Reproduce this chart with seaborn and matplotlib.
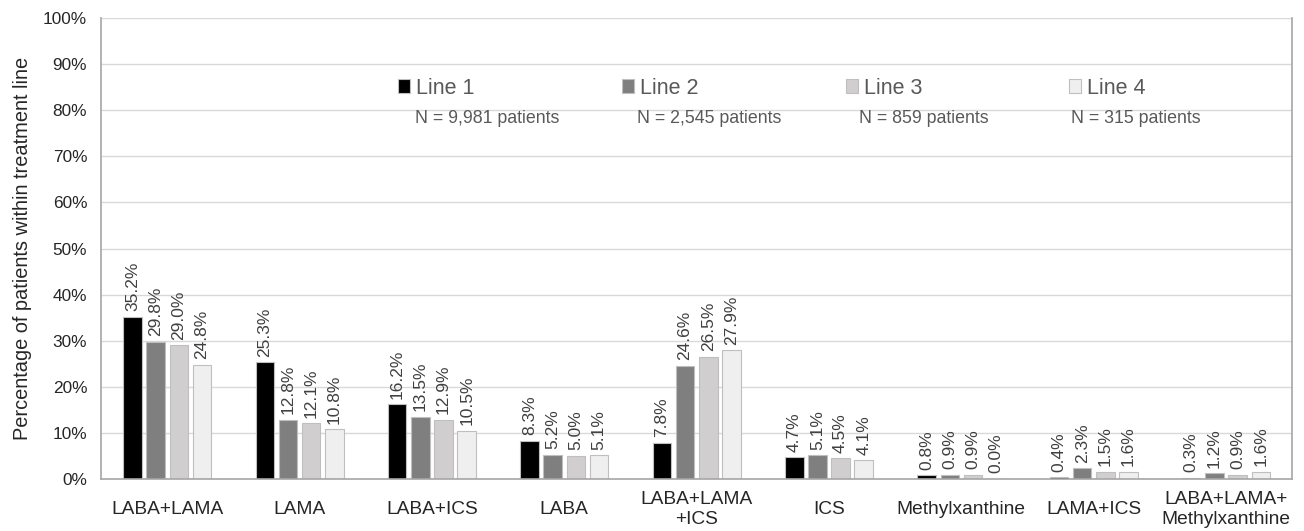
import pandas as pd
import matplotlib
matplotlib.use('Agg')
import matplotlib.pyplot as plt
import seaborn as sns

# data
categories = ['LABA+LAMA', 'LAMA', 'LABA+ICS', 'LABA', 'LABA+LAMA\n+ICS', 'ICS',
              'Methylxanthine', 'LAMA+ICS', 'LABA+LAMA+\nMethylxanthine']
line1 = [35.2, 25.3, 16.2, 8.3, 7.8, 4.7, 0.8, 0.4, 0.3]
line2 = [29.8, 12.8, 13.5, 5.2, 24.6, 5.1, 0.9, 2.3, 1.2]
line3 = [29.0, 12.1, 12.9, 5.0, 26.5, 4.5, 0.9, 1.5, 0.9]
line4 = [24.8, 10.8, 10.5, 5.1, 27.9, 4.1, 0.0, 1.6, 1.6]
series_names = ['Line 1', 'Line 2', 'Line 3', 'Line 4']
n_labels = ['N = 9,981 patients', 'N = 2,545 patients', 'N = 859 patients', 'N = 315 patients']
colors = ['#000000', '#7f7f7f', '#d0cecf', '#efefef']

rows = []
for name, vals in zip(series_names, [line1, line2, line3, line4]):
    for c, v in zip(categories, vals):
        rows.append({'category': c, 'line': name, 'value': v})
df = pd.DataFrame(rows)

sns.set_style('white')
plt.rcParams['font.family'] = ['Liberation Sans', 'DejaVu Sans']

fig = plt.figure(figsize=(13.04, 5.31), dpi=100)
ax = fig.add_axes([0.0775, 0.098, 0.9135, 0.868])

sns.barplot(data=df, x='category', y='value', hue='line', palette=colors,
            width=0.7, gap=0.2, edgecolor='#bfbfbf', linewidth=0.8,
            order=categories, hue_order=series_names, ax=ax)

for cont in ax.containers:
    ax.bar_label(cont, labels=[f'{v:.1f}%' for v in cont.datavalues],
                 rotation=90, padding=4, fontsize=12.5, color='#404040')

ax.set_ylim(0, 100)
ax.set_xlim(-0.5, len(categories) - 0.5)
ax.set_yticks(range(0, 101, 10))
ax.set_yticklabels([f'{t}%' for t in range(0, 101, 10)], fontsize=12.4)
ax.tick_params(axis='x', labelsize=13.8, length=0, pad=22)
ax.tick_params(axis='y', length=0, pad=10)
for lab in ax.get_xticklabels():
    lab.set_verticalalignment('center')
    lab.set_linespacing(1.3)
ax.yaxis.grid(True, color='#d9d9d9', linewidth=1)
ax.set_axisbelow(True)
ax.set_xlabel('')
ax.set_ylabel('Percentage of patients within treatment line', fontsize=14.4, labelpad=8)
for side in ['left', 'right', 'bottom']:
    ax.spines[side].set_color('#a6a6a6')
    ax.spines[side].set_linewidth(1.2)
ax.spines['top'].set_visible(False)

leg = ax.legend(loc='center left', bbox_to_anchor=(0.2494, 0.848), ncol=4,
                frameon=False, fontsize=15.5, handlelength=0.56, handleheight=0.56,
                handletextpad=0.28, columnspacing=6.84, borderpad=0, borderaxespad=0)
for t in leg.get_texts():
    t.set_color('#595959')

for x, lab in zip([0.2636, 0.450, 0.6364, 0.8144], n_labels):
    ax.text(x, 0.783, lab, transform=ax.transAxes, fontsize=12.8,
            color='#595959', va='center', ha='left')

fig.savefig('out.png', dpi=100)
